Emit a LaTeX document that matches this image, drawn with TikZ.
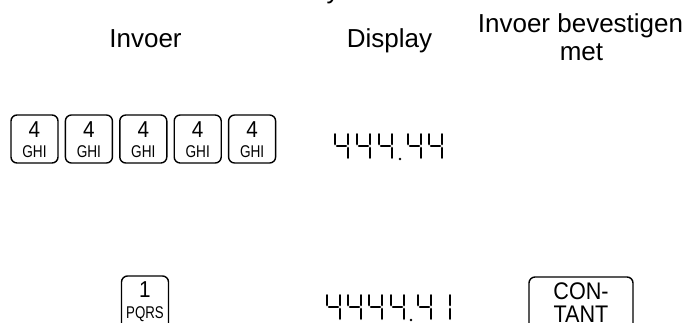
\documentclass[tikz,border=0pt]{standalone}
\usepackage{fontspec}
\setmainfont{Liberation Sans}
\newcommand{\nar}[2]{\scalebox{#1}[1]{#2}}
\newcommand{\vseg}[3]{\fill (#1,#2) -- (#1+0.9,#2+1) -- (#1+0.9,#3-1) -- (#1,#3) -- (#1-0.9,#3-1) -- (#1-0.9,#2+1) -- cycle;}
\newcommand{\hseg}[3]{\fill (#2,#1) -- (#2+1,#1-0.9) -- (#3-1,#1-0.9) -- (#3,#1) -- (#3-1,#1+0.9) -- (#2+1,#1+0.9) -- cycle;}
\newcommand{\sfour}[2]{%
  \vseg{#1}{#2+1}{#2+13.3}
  \vseg{#1+13}{#2+1}{#2+13.3}
  \hseg{#2+14}{#1+0.8}{#1+12.2}
  \vseg{#1+13}{#2+14.7}{#2+27}}
\newcommand{\sone}[2]{%
  \vseg{#1+13}{#2+1}{#2+13.3}
  \vseg{#1+13}{#2+14.7}{#2+27}}
\newcommand{\sdot}[2]{\fill (#1,#2) circle (1.3);}
\tikzset{
  hdr/.style={inner sep=0pt, anchor=base, font=\fontsize{26}{30}\selectfont},
  keybox/.style={draw, line width=1.4pt, rounded corners=6pt, minimum width=47pt, minimum height=48pt, inner sep=0pt},
  keynum/.style={inner sep=0pt, anchor=base, font=\fontsize{23}{26}\selectfont},
  keylet/.style={inner sep=0pt, anchor=base, font=\fontsize{17}{20}\selectfont},
  bigkey/.style={inner sep=0pt, anchor=base, font=\fontsize{24}{27}\selectfont}
}
\begin{document}
\begin{tikzpicture}[x=1pt,y=-1pt]
\useasboundingbox (0,0) rectangle (692,322);
% cut-off descender of a title line above
\node[hdr] (ttl) at (333,-2) {y};
% headers
\node[hdr] (h1) at (145.5,47) {Invoer};
\node[hdr] (h2) at (389.5,47) {Display};
\node[hdr] (h3) at (580.5,32) {Invoer bevestigen};
\node[hdr] (h4) at (581.5,60) {met};
% row 1 keys
\foreach \i in {1,...,5} {
  \pgfmathsetmacro{\cx}{34.5+54.4*(\i-1)}
  \node[keybox] (k\i) at (\cx,139) {};
  \node[keynum] (k\i n) at ([yshift=2pt]k\i.center) {\nar{0.9}{4}};
  \node[keylet] (k\i l) at ([yshift=-18pt]k\i.center) {\nar{0.8}{GHI}};
}
% row 1 display 444.44
\sfour{335}{132}
\sfour{357}{132}
\sfour{379}{132}
\sdot{400}{159}
\sfour{408}{132}
\sfour{429}{132}
% row 2 key 1 PQRS (cut off at bottom)
\node[keybox, minimum height=60pt] (p1) at (145,306) {};
\node[keynum] (p1n) at (145,297) {\nar{0.9}{1}};
\node[keylet] (p1l) at (145,318) {\nar{0.78}{PQRS}};
% row 2 display 4444.41
\sfour{327}{293}
\sfour{348}{293}
\sfour{369}{293}
\sfour{391}{293}
\sdot{411}{320}
\sfour{418}{293}
\sone{437}{293}
% row 2 CONTANT key (cut off at bottom)
\node[keybox, minimum width=104pt, minimum height=60pt] (ct) at (581,307) {};
\node[bigkey] (ct1) at (581,299) {\nar{0.9}{CON-}};
\node[bigkey] (ct2) at (581,322) {\nar{0.9}{TANT}};
\end{tikzpicture}
\end{document}
